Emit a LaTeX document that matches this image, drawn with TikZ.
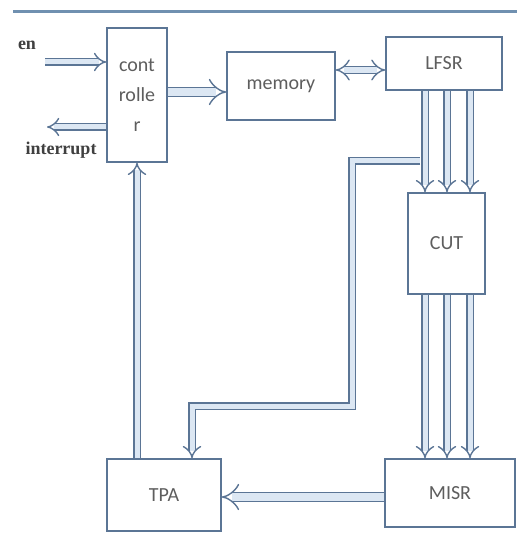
\documentclass[tikz,border=0pt]{standalone}
\usepackage{fontspec}
\setmainfont{Carlito}
\newfontfamily\serifbold{Liberation Serif}
\usetikzlibrary{arrows.meta,calc}
\definecolor{lc}{HTML}{5B7595}
\definecolor{lfill}{HTML}{DCE7F3}
\definecolor{tc}{HTML}{5E5E5E}
\definecolor{topc}{HTML}{7090B0}
\tikzset{
  blk/.style={draw=lc, line width=1.6pt, fill=white, rectangle, inner sep=0pt, font=\fontsize{20}{22}\selectfont, text=tc},
  dbl/.style={draw=lc, double=lfill, line width=1.4pt, double distance=#1, line join=miter},
  dbl/.default=5pt,
  hd/.tip={Implies[length=6pt,width=15pt]},
  lbl/.style={font=\serifbold\bfseries\fontsize{18}{20}\selectfont, text=black!75, inner sep=0pt}
}
\begin{document}
\begin{tikzpicture}[x=1pt,y=-1pt]
\useasboundingbox (0,0) rectangle (517,534);
\fill[white] (0,0) rectangle (517,534);
\draw[topc, line width=3pt] (13,12) -- (517,12);
% blocks
\node[blk, minimum width=60pt, minimum height=134pt, align=center, font=\fontsize{20}{30}\selectfont] (ctrl) at (137,95) {cont\\rolle\\r};
\node[blk, minimum width=108pt, minimum height=68pt] (mem) at (281,86) {memory};
\node[blk, minimum width=116pt, minimum height=53pt] (lfsr) at (444,63.5) {LFSR};
\node[blk, minimum width=77pt, minimum height=101pt] (cut) at (446.5,243.5) {CUT};
\node[blk, minimum width=114pt, minimum height=72pt] (tpa) at (164,495) {TPA};
\node[blk, minimum width=130pt, minimum height=68pt] (misr) at (450,493) {MISR};
% labels
\node[lbl] (en) at (27,45) {en};
\node[lbl] (intr) at (61,150) {interrupt};
% helper coordinates
\coordinate (enS) at (45,62);
\coordinate (intE) at (47,127);
\coordinate (y92) at (0,92);
\coordinate (y70) at (0,70);
\coordinate (y497) at (0,497);
\coordinate (x137) at (137,0);
\coordinate (xa) at (425,0);
\coordinate (xb) at (447,0);
\coordinate (xc) at (470,0);
\coordinate (fbS) at (420,161);
\coordinate (fb1) at (352,161);
\coordinate (fb2) at (352,406);
\coordinate (fb3) at (192,406);
% connectors
\draw[dbl, -hd] (enS) -- (enS -| ctrl.west);
\draw[dbl, -hd] (ctrl.west |- intE) -- (intE);
\draw[dbl=8pt, -hd] (ctrl.east |- y92) -- (mem.west |- y92);
\draw[dbl=6pt, hd-hd] (mem.east |- y70) -- (lfsr.west |- y70);
\foreach \c in {xa,xb,xc} {
  \draw[dbl, -hd] (lfsr.south -| \c) -- (cut.north -| \c);
  \draw[dbl, -hd] (cut.south -| \c) -- (misr.north -| \c);
}
\draw[dbl, -hd] (fbS) -- (fb1) -- (fb2) -- (fb3) -- (tpa.north -| fb3);
\draw[dbl, -hd] (tpa.north -| x137) -- (ctrl.south -| x137);
\draw[dbl=8pt, -hd] (misr.west |- y497) -- (tpa.east |- y497);
\end{tikzpicture}
\end{document}
